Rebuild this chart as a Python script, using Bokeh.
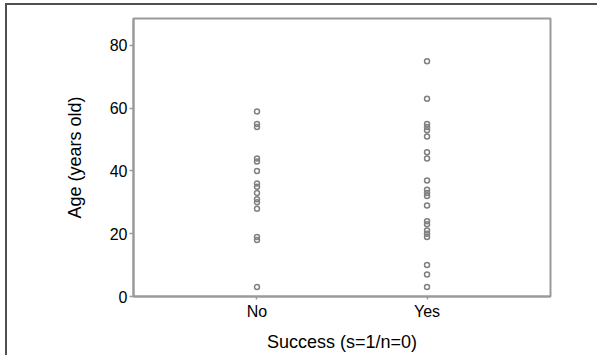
from bokeh.plotting import figure
from bokeh.models import FactorRange, Range1d, FixedTicker, ColumnDataSource
from bokeh.embed import file_html
from bokeh.resources import INLINE

categories = ["No", "Yes"]
age_no = [59, 55, 54, 44, 43, 40, 36, 35, 33, 31, 30, 28, 19, 18, 3]
age_yes = [75, 63, 55, 54, 53, 51, 46, 44, 37, 34, 33, 32, 29, 24, 23, 21, 20, 19, 10, 7, 3]
y_ticks = [0, 20, 40, 60, 80]

xs = ["No"] * len(age_no) + ["Yes"] * len(age_yes)
ys = age_no + age_yes
src = ColumnDataSource(data=dict(success=xs, age=ys))

FONT = "Liberation Sans"
GRAY = "#9a9a9a"

p = figure(
    width=592, height=352,
    x_range=FactorRange(factors=categories, range_padding=0.226, range_padding_units="absolute"),
    y_range=Range1d(0, 88.6),
    output_backend="svg", toolbar_location=None,
    min_border_left=126, min_border_top=13, min_border_right=49, min_border_bottom=61,
)
p.styles = {"border-left": "2px solid #505050", "border-top": "2px solid #505050",
            "margin-left": "5px", "margin-top": "3px"}

p.scatter(x="success", y="age", source=src, marker="circle", size=5,
          fill_color=None, line_color="#808080", line_width=1.5)

p.xgrid.visible = False
p.ygrid.visible = False
p.outline_line_color = GRAY
p.outline_line_width = 2
p.background_fill_color = "white"
p.border_fill_color = "white"

p.yaxis.ticker = FixedTicker(ticks=y_ticks)
p.yaxis.minor_tick_line_color = None
p.yaxis.major_tick_in = 0
p.yaxis.major_tick_out = 4
p.yaxis.major_label_standoff = 2
p.yaxis.axis_label = "Age (years old)"
p.yaxis.axis_label_standoff = 22

p.xaxis.major_tick_in = 0
p.xaxis.major_tick_out = 3
p.xaxis.major_label_standoff = 3
p.xaxis.axis_label = "Success (s=1/n=0)"
p.xaxis.axis_label_standoff = 9

for ax in (p.xaxis, p.yaxis):
    ax.axis_line_color = GRAY
    ax.axis_line_width = 2
    ax.major_tick_line_color = GRAY
    ax.major_tick_line_width = 1.5
    ax.major_label_text_font = FONT
    ax.major_label_text_font_size = "16px"
    ax.major_label_text_color = "black"
    ax.axis_label_text_font = FONT
    ax.axis_label_text_font_size = "18px"
    ax.axis_label_text_font_style = "normal"
    ax.axis_label_text_color = "black"

open("out.html", "w").write(file_html(p, INLINE))
